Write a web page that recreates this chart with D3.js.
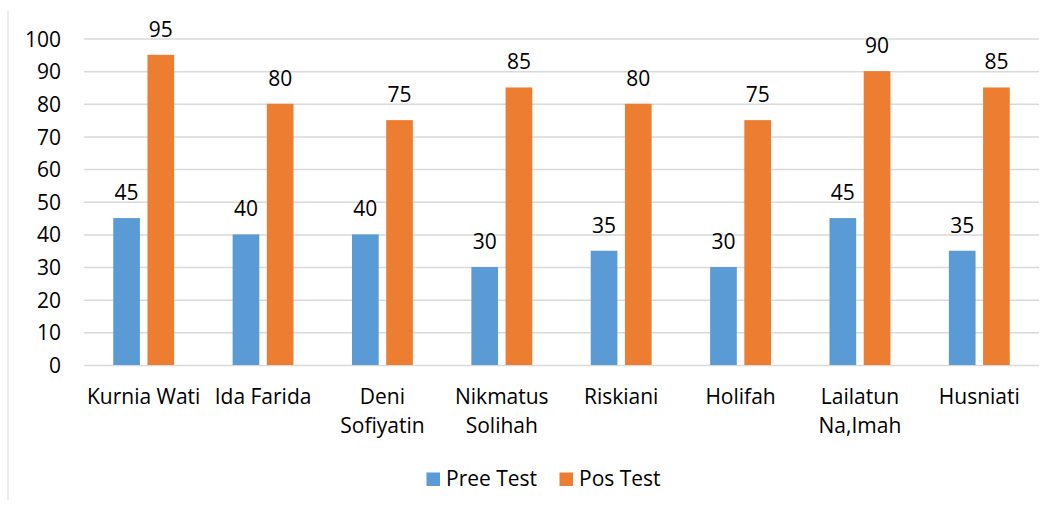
<!DOCTYPE html>
<html><head><meta charset="utf-8">
<script src="https://cdn.jsdelivr.net/npm/d3@7"></script>
<style>
html,body{margin:0;padding:0;background:#fff;}
text{font-family:"Open Sans",sans-serif;fill:#000;}
</style></head>
<body>
<svg id="chart" width="1054" height="508"></svg>
<script>
const categories = [["Kurnia Wati"],["Ida Farida"],["Deni","Sofiyatin"],["Nikmatus","Solihah"],["Riskiani"],["Holifah"],["Lailatun","Na,Imah"],["Husniati"]];
const seriesNames = ["Pree Test","Pos Test"];
const preeTest = [45,40,40,30,35,30,45,35];
const posTest = [95,80,75,85,80,75,90,85];
const yTicks = [0,10,20,30,40,50,60,70,80,90,100];
const colors = ["#5b9bd5","#ed7d31"];

(function(){
const svg = d3.select("#chart");
const pL = 84, pR = 1039, pT = 38.5, pB = 365;
const fs = "21px";
const catKeys = categories.map(c => c.join(" "));
const x0 = d3.scaleBand().domain(catKeys).range([pL, pR]).paddingInner(0.49).paddingOuter(0.245);
const x1 = d3.scaleBand().domain(seriesNames).range([0, x0.bandwidth()]).paddingInner(0.22);
const y = d3.scaleLinear().domain([0,100]).range([pB, pT]);

svg.append("line").attr("x1",8).attr("x2",8).attr("y1",11).attr("y2",500).attr("stroke","#d9d9d9").attr("stroke-width",1);

const yAxis = d3.axisLeft(y).tickValues(yTicks).tickSize(-(pR-pL)).tickPadding(23).tickFormat(d3.format("d"));
const gy = svg.append("g").attr("transform",`translate(${pL},0)`).call(yAxis);
gy.select(".domain").remove();
gy.attr("font-family",null).attr("font-size",null);
gy.selectAll(".tick line").attr("stroke","#d9d9d9").attr("stroke-width",1.5);
gy.selectAll(".tick text").style("font-size",fs).attr("dy","0.36em");

const data = catKeys.map((k,i)=>({key:k, vals:[preeTest[i], posTest[i]]}));
const groups = svg.append("g").selectAll("g").data(data).join("g").attr("transform",d=>`translate(${x0(d.key)},0)`);
groups.selectAll("rect").data(d=>d.vals.map((v,j)=>({s:seriesNames[j], v, j}))).join("rect")
  .attr("x",d=>x1(d.s)).attr("width",x1.bandwidth())
  .attr("y",d=>y(d.v)).attr("height",d=>y(0)-y(d.v))
  .attr("fill",d=>colors[d.j]);
groups.selectAll("text.lbl").data(d=>d.vals.map((v,j)=>({s:seriesNames[j], v, j}))).join("text")
  .attr("class","lbl").attr("x",d=>x1(d.s)+x1.bandwidth()/2).attr("y",d=>y(d.v)-18)
  .attr("text-anchor","middle").style("font-size",fs).text(d=>d.v);

const xl = svg.append("g").selectAll("text").data(categories).join("text")
  .attr("x",(d,i)=>x0(catKeys[i])+x0.bandwidth()/2).attr("y",404)
  .attr("text-anchor","middle").style("font-size",fs);
xl.selectAll("tspan").data(d=>d).join("tspan")
  .attr("x",function(){return d3.select(this.parentNode).attr("x");})
  .attr("dy",(d,i)=>i===0?0:28.5).text(d=>d);

const legX = [426.5, 559.5];
const lg = svg.append("g").selectAll("g").data(seriesNames).join("g").attr("transform",(d,i)=>`translate(${legX[i]},472.5)`);
lg.append("rect").attr("width",13.5).attr("height",13.5).attr("fill",(d,i)=>colors[i]);
lg.append("text").attr("x",19.5).attr("y",13).style("font-size",fs).text(d=>d);
})();
</script>
</body></html>
